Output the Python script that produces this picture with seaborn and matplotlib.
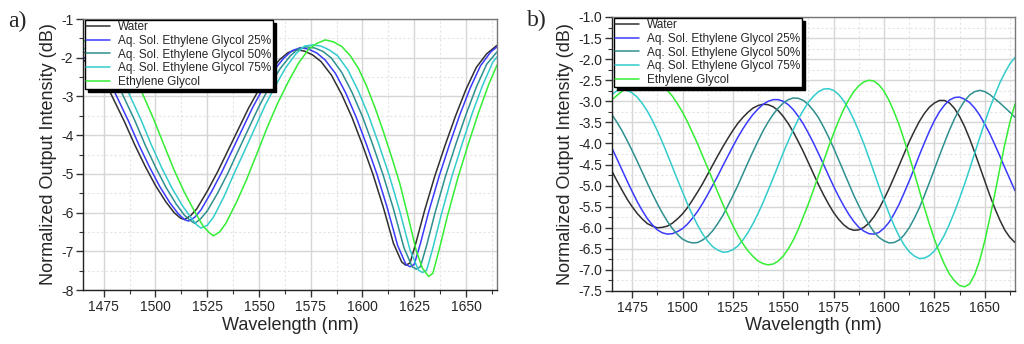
import numpy as np
import pandas as pd
import matplotlib
matplotlib.use("Agg")
import matplotlib.pyplot as plt
import seaborn as sns
from matplotlib.ticker import MultipleLocator, FormatStrFormatter

# ---------------- data ----------------
SERIES = ["Water", "Aq. Sol. Ethylene Glycol 25%", "Aq. Sol. Ethylene Glycol 50%",
          "Aq. Sol. Ethylene Glycol 75%", "Ethylene Glycol"]
COLORS = ["#303030", "#3a3aff", "#2f8f8f", "#33cccc", "#33ee33"]

# panel a) per-series wavelengths (nm) and intensities (dB)
A_WATER_WL = [1465, 1470, 1475, 1480, 1485, 1490, 1495, 1500, 1505, 1509, 1512, 1514, 1517, 1520,
              1525, 1530, 1535, 1540, 1545, 1550, 1555, 1560, 1564, 1568, 1572, 1576, 1580, 1585,
              1590, 1595, 1600, 1605, 1610, 1615, 1619, 1621, 1623, 1626, 1630, 1635, 1640, 1645,
              1650, 1655, 1660, 1665]
A_WATER = [-2.05, -2.25, -2.55, -3.10, -3.65, -4.25, -4.80, -5.30, -5.72, -6.00, -6.14, -6.18, -6.08,
           -5.90, -5.45, -4.95, -4.40, -3.85, -3.30, -2.82, -2.38, -2.05, -1.87, -1.79, -1.83, -1.93,
           -2.10, -2.45, -2.95, -3.55, -4.25, -5.00, -5.85, -6.80, -7.28, -7.36, -7.30, -6.75, -5.95,
           -5.05, -4.25, -3.50, -2.82, -2.25, -1.90, -1.68]
A_EG25_WL = [1465, 1472, 1477, 1482, 1487, 1492, 1497, 1502, 1507, 1511, 1514, 1516, 1519, 1522,
             1527, 1532, 1537, 1542, 1547, 1552, 1557, 1562, 1566, 1570, 1574, 1578, 1582, 1587,
             1592, 1597, 1602, 1607, 1612, 1617, 1621, 1623, 1625, 1628, 1632, 1637, 1642, 1647,
             1652, 1657, 1662, 1665]
A_EG25 = [-1.98, -2.21, -2.52, -3.08, -3.64, -4.25, -4.81, -5.32, -5.75, -6.03, -6.18, -6.22, -6.12,
          -5.93, -5.47, -4.96, -4.40, -3.84, -3.28, -2.79, -2.34, -2.01, -1.82, -1.74, -1.78, -1.88,
          -2.06, -2.41, -2.92, -3.54, -4.25, -5.01, -5.88, -6.85, -7.34, -7.40, -7.34, -6.80, -5.98,
          -5.07, -4.25, -3.48, -2.79, -2.21, -1.85, -1.72]
A_EG50_WL = [1465, 1470, 1475, 1480, 1485, 1490, 1495, 1500, 1505, 1510, 1514, 1517, 1519, 1522,
             1525, 1530, 1535, 1540, 1545, 1550, 1555, 1560, 1565, 1569, 1573, 1577, 1581, 1585,
             1590, 1595, 1600, 1605, 1610, 1615, 1620, 1624, 1626, 1628, 1631, 1635, 1640, 1645,
             1650, 1655, 1660, 1665]
A_EG50 = [-1.85, -1.96, -2.17, -2.48, -3.05, -3.62, -4.25, -4.82, -5.34, -5.78, -6.07, -6.21, -6.28,
          -6.15, -5.96, -5.50, -4.98, -4.40, -3.83, -3.26, -2.76, -2.30, -1.96, -1.77, -1.72, -1.75,
          -1.84, -2.01, -2.38, -2.90, -3.52, -4.25, -5.03, -5.91, -6.90, -7.40, -7.46, -7.40, -6.85,
          -6.02, -5.08, -4.25, -3.47, -2.76, -2.17, -1.85]
A_EG75_WL = [1465, 1473, 1478, 1483, 1488, 1493, 1498, 1503, 1508, 1513, 1517, 1520, 1522, 1525,
             1528, 1533, 1538, 1543, 1548, 1553, 1558, 1563, 1568, 1572, 1576, 1580, 1584, 1588,
             1593, 1598, 1603, 1608, 1613, 1618, 1623, 1627, 1629, 1631, 1634, 1638, 1643, 1648,
             1653, 1658, 1663, 1665]
A_EG75 = [-1.75, -1.89, -2.11, -2.43, -3.02, -3.60, -4.25, -4.84, -5.37, -5.82, -6.12, -6.32, -6.40,
          -6.33, -6.12, -5.60, -4.99, -4.41, -3.82, -3.23, -2.72, -2.25, -1.89, -1.70, -1.67, -1.70,
          -1.80, -1.95, -2.32, -2.86, -3.50, -4.25, -5.05, -5.96, -6.97, -7.48, -7.55, -7.49, -6.92,
          -6.07, -5.10, -4.25, -3.44, -2.72, -2.11, -1.98]
A_EG_WL = [1465, 1474, 1479, 1484, 1489, 1494, 1499, 1504, 1509, 1514, 1519, 1523, 1526, 1528,
           1531, 1534, 1539, 1544, 1549, 1554, 1559, 1564, 1569, 1574, 1578, 1582, 1586, 1590,
           1594, 1598, 1602, 1606, 1610, 1614, 1618, 1622, 1626, 1629, 1632, 1634, 1637, 1641,
           1646, 1651, 1656, 1661, 1665]
A_EG = [-1.55, -1.70, -1.78, -2.00, -2.34, -2.96, -3.57, -4.24, -4.90, -5.48, -5.98, -6.35, -6.52,
        -6.60, -6.50, -6.28, -5.75, -5.15, -4.48, -3.80, -3.18, -2.64, -2.15, -1.78, -1.63, -1.54,
        -1.59, -1.71, -1.94, -2.27, -2.73, -3.28, -3.89, -4.55, -5.24, -6.09, -6.99, -7.44, -7.65,
        -7.57, -6.97, -6.10, -5.12, -4.25, -3.43, -2.69, -2.19]

# panel b) common wavelength sampling, 2.5 nm steps from 1465 to 1665 nm
B_WL = list(np.arange(1465.0, 1665.1, 2.5))
B_WATER = [-4.66, -4.89, -5.11, -5.32, -5.50, -5.66, -5.79, -5.90, -5.96, -6.00,
           -5.99, -5.96, -5.89, -5.79, -5.67, -5.52, -5.34, -5.15, -4.95, -4.73,
           -4.51, -4.29, -4.08, -3.88, -3.69, -3.52, -3.38, -3.26, -3.16, -3.10,
           -3.07, -3.08, -3.13, -3.22, -3.36, -3.53, -3.73, -3.96, -4.20, -4.46,
           -4.72, -4.98, -5.22, -5.44, -5.64, -5.80, -5.93, -6.02, -6.06, -6.05,
           -5.99, -5.89, -5.74, -5.55, -5.32, -5.07, -4.80, -4.52, -4.24, -3.96,
           -3.71, -3.48, -3.29, -3.14, -3.04, -2.98, -2.98, -3.04, -3.17, -3.36,
           -3.60, -3.89, -4.21, -4.55, -4.89, -5.23, -5.54, -5.82, -6.06, -6.23,
           -6.35]
B_EG25 = [-4.11, -4.37, -4.63, -4.89, -5.14, -5.38, -5.59, -5.78, -5.93, -6.05,
          -6.12, -6.15, -6.14, -6.09, -6.02, -5.91, -5.77, -5.61, -5.42, -5.21,
          -4.99, -4.77, -4.53, -4.30, -4.07, -3.85, -3.65, -3.47, -3.31, -3.18,
          -3.07, -3.00, -2.96, -2.96, -3.00, -3.08, -3.20, -3.36, -3.54, -3.76,
          -3.99, -4.24, -4.50, -4.76, -5.02, -5.26, -5.48, -5.68, -5.85, -5.99,
          -6.08, -6.14, -6.15, -6.11, -6.01, -5.87, -5.67, -5.44, -5.17, -4.89,
          -4.59, -4.28, -3.99, -3.71, -3.46, -3.25, -3.09, -2.97, -2.91, -2.90,
          -2.95, -3.03, -3.16, -3.33, -3.54, -3.77, -4.03, -4.30, -4.58, -4.85,
          -5.12]
B_EG50 = [-3.32, -3.50, -3.70, -3.93, -4.17, -4.42, -4.68, -4.94, -5.19, -5.43,
          -5.65, -5.85, -6.02, -6.16, -6.27, -6.33, -6.36, -6.35, -6.29, -6.20,
          -6.07, -5.90, -5.71, -5.48, -5.24, -4.99, -4.72, -4.45, -4.19, -3.94,
          -3.70, -3.49, -3.31, -3.16, -3.04, -2.96, -2.92, -2.93, -2.98, -3.08,
          -3.22, -3.39, -3.61, -3.85, -4.11, -4.39, -4.67, -4.95, -5.23, -5.48,
          -5.72, -5.92, -6.10, -6.23, -6.31, -6.36, -6.35, -6.29, -6.17, -6.00,
          -5.78, -5.53, -5.24, -4.93, -4.61, -4.29, -3.98, -3.68, -3.41, -3.18,
          -2.99, -2.85, -2.77, -2.74, -2.77, -2.84, -2.94, -3.04, -3.15, -3.26,
          -3.38]
B_EG75 = [-2.84, -2.75, -2.72, -2.74, -2.80, -2.90, -3.05, -3.23, -3.45, -3.70,
          -3.97, -4.26, -4.56, -4.86, -5.15, -5.44, -5.70, -5.94, -6.15, -6.32,
          -6.45, -6.53, -6.58, -6.57, -6.52, -6.43, -6.29, -6.11, -5.90, -5.66,
          -5.40, -5.11, -4.82, -4.52, -4.22, -3.94, -3.67, -3.42, -3.21, -3.02,
          -2.88, -2.77, -2.71, -2.70, -2.74, -2.84, -2.99, -3.19, -3.43, -3.71,
          -4.01, -4.34, -4.68, -5.02, -5.35, -5.66, -5.95, -6.20, -6.41, -6.57,
          -6.67, -6.73, -6.72, -6.66, -6.55, -6.38, -6.17, -5.91, -5.62, -5.30,
          -4.96, -4.60, -4.23, -3.86, -3.50, -3.16, -2.85, -2.56, -2.32, -2.11,
          -1.96]
B_EG = [-2.96, -2.86, -2.76, -2.69, -2.62, -2.57, -2.54, -2.52, -2.52, -2.56,
        -2.63, -2.74, -2.88, -3.06, -3.26, -3.49, -3.75, -4.01, -4.30, -4.58,
        -4.87, -5.16, -5.44, -5.70, -5.95, -6.18, -6.38, -6.55, -6.68, -6.79,
        -6.85, -6.88, -6.86, -6.79, -6.67, -6.50, -6.29, -6.03, -5.73, -5.43,
        -5.10, -4.76, -4.42, -4.08, -3.76, -3.46, -3.19, -2.96, -2.77, -2.63,
        -2.54, -2.50, -2.52, -2.61, -2.76, -2.98, -3.25, -3.56, -3.92, -4.30,
        -4.70, -5.11, -5.52, -5.91, -6.27, -6.59, -6.87, -7.10, -7.26, -7.37,
        -7.40, -7.33, -7.11, -6.77, -6.31, -5.77, -5.19, -4.59, -4.01, -3.49,
        -3.06]

X_TICKS = [1475, 1500, 1525, 1550, 1575, 1600, 1625, 1650]


def long_form(pairs):
    frames = []
    for name, (wl, val) in zip(SERIES, pairs):
        assert len(wl) == len(val), name
        frames.append(pd.DataFrame({"wl": wl, "val": val, "series": name}))
    return pd.concat(frames, ignore_index=True)


df_a = long_form([(A_WATER_WL, A_WATER), (A_EG25_WL, A_EG25), (A_EG50_WL, A_EG50),
                  (A_EG75_WL, A_EG75), (A_EG_WL, A_EG)])
df_b = long_form([(B_WL, B_WATER), (B_WL, B_EG25), (B_WL, B_EG50), (B_WL, B_EG75), (B_WL, B_EG)])

# ---------------- style ----------------
sns.set_style("white")
plt.rcParams["font.family"] = ["Liberation Sans", "DejaVu Sans"]
plt.rcParams["axes.unicode_minus"] = False

fig = plt.figure(figsize=(10.24, 3.44), dpi=100)
W, H = 1024, 344
ax_a = fig.add_axes([83 / W, (H - 290) / H, 414 / W, 271 / H])
ax_b = fig.add_axes([612 / W, (H - 291) / H, 403 / W, 274 / H])


def draw(ax, df, ylim, ymaj, ymin, yfmt):
    sns.lineplot(data=df, x="wl", y="val", hue="series", hue_order=SERIES, palette=COLORS,
                 estimator=None, sort=False, linewidth=1.1, legend=False, ax=ax)
    ax.set_xlim(1465, 1665)
    ax.set_ylim(*ylim)
    ax.set_xticks(X_TICKS)
    ax.xaxis.set_minor_locator(MultipleLocator(12.5))
    ax.yaxis.set_major_locator(MultipleLocator(ymaj))
    ax.yaxis.set_minor_locator(MultipleLocator(ymin))
    ax.yaxis.set_major_formatter(FormatStrFormatter(yfmt))
    ax.set_axisbelow(True)
    ax.grid(which="major", color="#d6d6d6", linewidth=1.0)
    ax.grid(which="minor", color="#e4e4e4", linewidth=0.8, linestyle=(0, (2, 2)))
    ax.tick_params(which="major", direction="out", length=5, width=1, labelsize=10,
                   color="#333333", pad=2, bottom=True, left=True)
    ax.tick_params(which="minor", direction="out", length=3, width=0.8,
                   color="#333333", bottom=True, left=True)
    for side, sp in ax.spines.items():
        sp.set_visible(True)
        sp.set_linewidth(1.0)
        sp.set_color("#222222" if side in ("left", "bottom") else "#777777")
    ax.set_xlabel("Wavelength (nm)", fontsize=13, labelpad=2)
    ax.set_ylabel("Normalized Output Intensity (dB)", fontsize=13, labelpad=3)
    handles = ax.get_lines()[:5]
    leg = ax.legend(handles, SERIES, loc="upper left", bbox_to_anchor=(0.005, 0.997),
                    borderaxespad=0.0, fontsize=8.5, frameon=True, fancybox=False,
                    edgecolor="black", framealpha=1.0,
                    shadow={"color": "black", "alpha": 1.0},
                    handlelength=2.0, handletextpad=0.7, labelspacing=0.14,
                    borderpad=0.12)
    leg.get_frame().set_linewidth(1.0)
    leg.set_zorder(5)


draw(ax_a, df_a, (-8, -1), 1, 0.5, "%d")
draw(ax_b, df_b, (-7.5, -1.0), 0.5, 0.25, "%.1f")

fig.text(8 / W, 1 - 21 / H, "a)", fontsize=17, family="Liberation Serif", va="center", ha="left")
fig.text(527 / W, 1 - 20 / H, "b)", fontsize=17, family="Liberation Serif", va="center", ha="left")

fig.savefig("out.png", dpi=100)
